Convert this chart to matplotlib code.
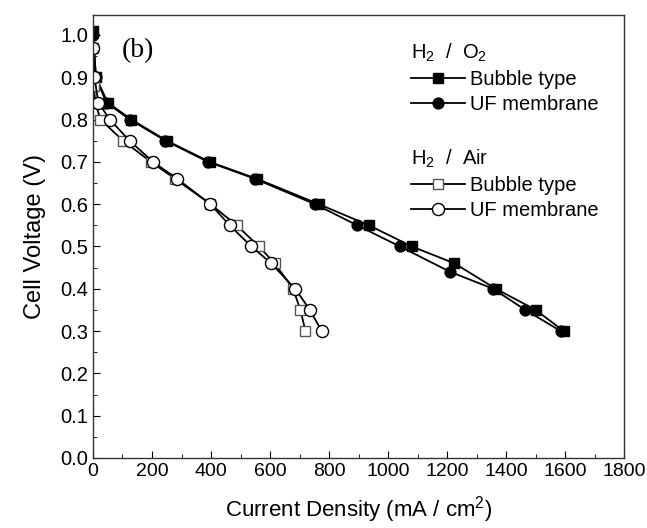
import matplotlib
matplotlib.use("Agg")
import matplotlib.pyplot as plt
from matplotlib.ticker import MultipleLocator

plt.rcParams['font.family'] = ['Liberation Sans', 'DejaVu Sans']
plt.rcParams['mathtext.fontset'] = 'custom'
plt.rcParams['mathtext.rm'] = 'Liberation Sans'

# H2 / O2
o2_bubble_x = [0, 10, 50, 130, 250, 395, 555, 765, 935, 1080, 1225, 1365, 1500, 1595]
o2_bubble_y = [1.01, 0.90, 0.84, 0.80, 0.75, 0.70, 0.66, 0.60, 0.55, 0.50, 0.46, 0.40, 0.35, 0.30]
o2_uf_x = [0, 10, 45, 125, 245, 390, 548, 752, 895, 1040, 1210, 1356, 1465, 1585]
o2_uf_y = [1.00, 0.90, 0.84, 0.80, 0.75, 0.70, 0.66, 0.60, 0.55, 0.50, 0.44, 0.40, 0.35, 0.30]
# H2 / Air
air_bubble_x = [0, 3, 8, 25, 102, 196, 278, 398, 487, 562, 616, 678, 703, 720]
air_bubble_y = [0.97, 0.88, 0.84, 0.80, 0.75, 0.70, 0.66, 0.60, 0.55, 0.50, 0.46, 0.40, 0.35, 0.30]
air_uf_x = [0, 5, 18, 57, 124, 203, 285, 398, 463, 537, 604, 685, 735, 775]
air_uf_y = [0.97, 0.90, 0.84, 0.80, 0.75, 0.70, 0.66, 0.60, 0.55, 0.50, 0.46, 0.40, 0.35, 0.30]

fig = plt.figure(figsize=(6.47, 5.28), dpi=100)
ax = fig.add_axes([0.1437, 0.1326, 0.821, 0.839])

ms = 7.8
lw = 1.3
l1, = ax.plot(o2_bubble_x, o2_bubble_y, '-s', color='black', mfc='black', mec='black', ms=ms, lw=lw)
l2, = ax.plot(o2_uf_x, o2_uf_y, '-o', color='black', mfc='black', mec='black', ms=ms, lw=lw)
l3, = ax.plot(air_bubble_x, air_bubble_y, '-s', color='black', mfc='white', mec='#555555', ms=ms, lw=lw, mew=1.0)
l4, = ax.plot(air_uf_x, air_uf_y, '-o', color='black', mfc='white', mec='black', ms=ms + 0.9, lw=lw, mew=1.0)

ax.set_xlim(0, 1800)
ax.set_ylim(0, 1.047)
ax.xaxis.set_major_locator(MultipleLocator(200))
ax.xaxis.set_minor_locator(MultipleLocator(100))
ax.yaxis.set_major_locator(MultipleLocator(0.1))
ax.yaxis.set_minor_locator(MultipleLocator(0.05))
ax.yaxis.set_major_formatter(plt.FuncFormatter(lambda v, p: f"{v:.1f}"))
ax.tick_params(which='both', direction='in', top=False, right=False)
ax.tick_params(axis='x', labelsize=14)
ax.tick_params(axis='y', labelsize=14.5)
ax.tick_params(which='major', length=5)
ax.tick_params(which='minor', length=3)
for s in ax.spines.values():
    s.set_linewidth(1.0)
    s.set_color('#333333')

ax.set_xlabel('Current Density (mA / cm$^2$)', fontsize=16, labelpad=10)
ax.set_ylabel('Cell Voltage (V)', fontsize=17, labelpad=10)

ax.text(0.054, 0.92, '(b)', transform=ax.transAxes, fontsize=20,
        family='Liberation Serif', va='center', ha='left')

common = dict(loc='upper left', frameon=False, fontsize=14.5, title_fontsize=14.5,
              handlelength=2.7, handletextpad=0.25, labelspacing=0.3,
              borderaxespad=0, borderpad=0)
leg1 = ax.legend([l1, l2], ['Bubble type', 'UF membrane'], title='H$_2$  /  O$_2$',
                 bbox_to_anchor=(0.598, 0.94), **common)
leg1._legend_box.align = 'left'
ax.add_artist(leg1)
leg2 = ax.legend([l3, l4], ['Bubble type', 'UF membrane'], title='H$_2$  /  Air',
                 bbox_to_anchor=(0.598, 0.70), **common)
leg2._legend_box.align = 'left'

fig.savefig('out.png', dpi=100)
